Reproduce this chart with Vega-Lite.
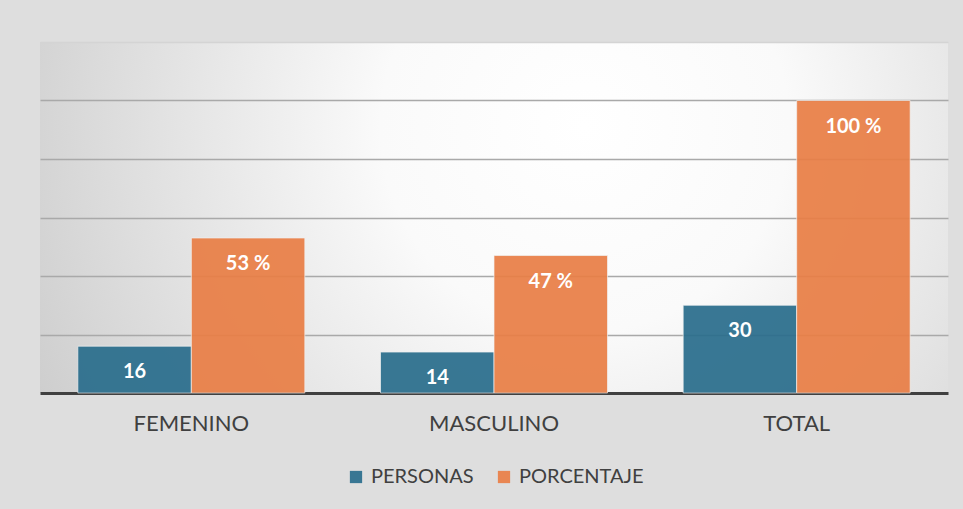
{
  "$schema": "https://vega.github.io/schema/vega-lite/v6.json",
  "width": 908,
  "height": 351,
  "padding": {"left": 40, "top": 42, "right": 15, "bottom": 116},
  "autosize": {"type": "none"},
  "background": "#dedede",
  "view": {
    "stroke": null,
    "fill": {
      "gradient": "radial",
      "x1": 0.6, "y1": 0.4, "r1": 0,
      "x2": 0.6, "y2": 0.4, "r2": 0.75,
      "stops": [
        {"offset": 0, "color": "#ffffff"},
        {"offset": 0.3, "color": "#fafafa"},
        {"offset": 1, "color": "#c6c6c6"}
      ]
    }
  },
  "data": {
    "values": [
      {"categoria": "FEMENINO", "serie": "PERSONAS", "valor": 16, "etiqueta": "16"},
      {"categoria": "FEMENINO", "serie": "PORCENTAJE", "valor": 53, "etiqueta": "53 %"},
      {"categoria": "MASCULINO", "serie": "PERSONAS", "valor": 14, "etiqueta": "14"},
      {"categoria": "MASCULINO", "serie": "PORCENTAJE", "valor": 47, "etiqueta": "47 %"},
      {"categoria": "TOTAL", "serie": "PERSONAS", "valor": 30, "etiqueta": "30"},
      {"categoria": "TOTAL", "serie": "PORCENTAJE", "valor": 100, "etiqueta": "100 %"}
    ]
  },
  "encoding": {
    "x": {
      "field": "categoria",
      "type": "nominal",
      "sort": ["FEMENINO", "MASCULINO", "TOTAL"],
      "scale": {"paddingInner": 0.25, "paddingOuter": 0.125},
      "axis": {
        "title": null,
        "labelAngle": 0,
        "ticks": false,
        "domainColor": "#404040",
        "domainWidth": 3,
        "labelFont": "Lato",
        "labelFontSize": 22,
        "labelColor": "#404040",
        "labelPadding": 20
      }
    },
    "xOffset": {
      "field": "serie",
      "type": "nominal",
      "sort": ["PERSONAS", "PORCENTAJE"],
      "scale": {"paddingInner": 0, "paddingOuter": 0}
    },
    "y": {
      "field": "valor",
      "type": "quantitative",
      "scale": {"domain": [0, 120], "nice": false},
      "axis": {
        "values": [20, 40, 60, 80, 100, 120],
        "title": null,
        "labels": false,
        "ticks": false,
        "domain": false,
        "grid": true,
        "gridWidth": 1.4,
        "gridColor": {"condition": {"test": "datum.value === 120", "value": "#d4d4d4"}, "value": "#a9a9a9"}
      }
    }
  },
  "layer": [
    {
      "mark": {"type": "bar", "opacity": 0.92, "stroke": "#f2f2f2", "strokeWidth": 1, "strokeOpacity": 0.7},
      "encoding": {
        "color": {
          "field": "serie",
          "type": "nominal",
          "sort": ["PERSONAS", "PORCENTAJE"],
          "scale": {"domain": ["PERSONAS", "PORCENTAJE"], "range": ["#296d8c", "#e97e45"]},
          "legend": {
            "title": null,
            "orient": "none",
            "direction": "horizontal",
            "legendX": 306,
            "legendY": 425,
            "symbolType": "square",
            "symbolSize": 150,
            "symbolStrokeWidth": 0,
            "labelFont": "Lato",
            "labelFontSize": 20,
            "labelColor": "#404040",
            "labelOffset": 5,
            "columnPadding": 20
          }
        }
      }
    },
    {
      "mark": {"type": "text", "color": "#ffffff", "font": "Lato", "fontWeight": "bold", "fontSize": 20, "baseline": "middle", "dy": 26},
      "encoding": {
        "text": {"field": "etiqueta", "type": "nominal"}
      }
    }
  ]
}
